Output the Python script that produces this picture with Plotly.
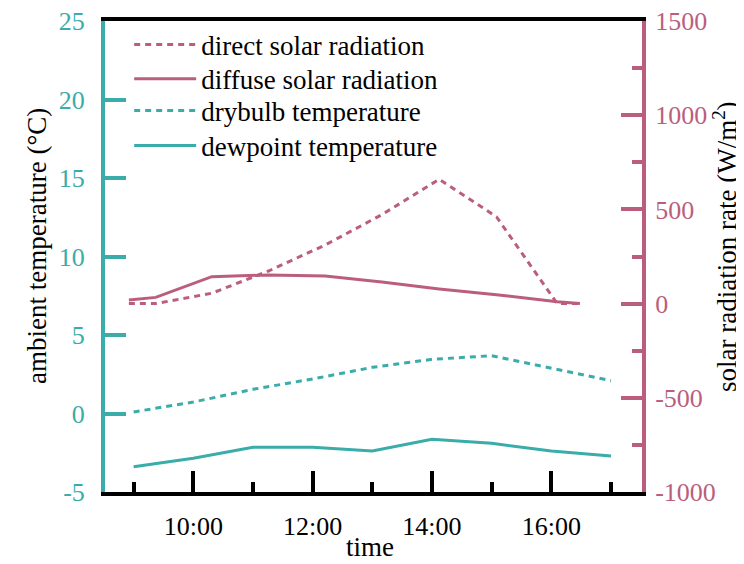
import plotly.graph_objects as go

# ---- data ----
hours = [9, 10, 11, 12, 13, 14, 15, 16, 17]
drybulb = [0.1, 0.73, 1.54, 2.2, 2.94, 3.45, 3.68, 2.88, 2.09]
dewpoint = [-3.39, -2.85, -2.15, -2.15, -2.39, -1.64, -1.9, -2.39, -2.71]

rad_hours = [8.92, 9.37, 10.31, 11.26, 12.21, 13.16, 14.12, 15.08, 16.1, 16.48]
direct = [0, 0, 55, 173, 311, 472, 660, 461, 0, 0]
diffuse = [19, 33, 143, 152, 146, 115, 78, 47, 10, 0]

xtick_vals = [10, 12, 14, 16]
xtick_text = ["10:00", "12:00", "14:00", "16:00"]
xminor_vals = [9, 11, 13, 15, 17]

ytemp_vals = [-5, 0, 5, 10, 15, 20, 25]
ytemp_text = ["-5", "0", "5", "10", "15", "20", "25"]
yrad_vals = [-1000, -500, 0, 500, 1000, 1500]
yrad_text = ["-1000", "-500", "0", "500", "1000", "1500"]
yrad_minor = [-750, -250, 250, 750, 1250]

TEAL = "#3aaca9"
PINK = "#bb5e7e"
FONT = "Liberation Serif"

# plot area in page pixels (the page body adds an 8px offset)
PX_L, PX_R, PX_T, PX_B = 105, 642, 21, 492
PW, PH = PX_R - PX_L, PX_B - PX_T


def px_x(x):
    return (x - PX_L) / PW


def px_y(y):
    return (PX_B - y) / PH


fig = go.Figure()
fig.add_trace(go.Scatter(x=rad_hours, y=direct, name="direct solar radiation", mode="lines",
                         line=dict(color=PINK, width=3, dash="6px,5px"), yaxis="y2",
                         legend="legend"))
fig.add_trace(go.Scatter(x=rad_hours, y=diffuse, name="diffuse solar radiation", mode="lines",
                         line=dict(color=PINK, width=3), yaxis="y2", legend="legend2"))
fig.add_trace(go.Scatter(x=hours, y=drybulb, name="drybulb temperature", mode="lines",
                         line=dict(color=TEAL, width=3, dash="6px,5px"), yaxis="y",
                         legend="legend3"))
fig.add_trace(go.Scatter(x=hours, y=dewpoint, name="dewpoint temperature", mode="lines",
                         line=dict(color=TEAL, width=3), yaxis="y", legend="legend4"))


def leg(yc):
    return dict(x=0.045, y=px_y(yc), xanchor="left", yanchor="middle",
                bgcolor="rgba(0,0,0,0)", borderwidth=0,
                font=dict(family=FONT, size=27, color="black"), itemwidth=62)


fig.update_layout(
    width=736, height=556,
    margin=dict(l=PX_L - 8, r=744 - PX_R, t=PX_T - 8, b=564 - PX_B, autoexpand=False),
    paper_bgcolor="white", plot_bgcolor="white",
    font=dict(family=FONT, size=26, color="black"),
    showlegend=True,
    legend=leg(45), legend2=leg(79.3), legend3=leg(111), legend4=leg(146),
    xaxis=dict(range=[8.52, 17.52], tickmode="array", tickvals=xtick_vals, ticktext=xtick_text,
               ticks="inside", ticklen=21, tickwidth=4, tickcolor="black",
               showline=True, linecolor="black", linewidth=4, mirror=True,
               showgrid=False, zeroline=False, automargin=False, ticklabeloverflow="allow",
               minor=dict(tickmode="array", tickvals=xminor_vals, ticks="inside",
                          ticklen=10, tickwidth=4, tickcolor="black"),
               tickfont=dict(family=FONT, size=26, color="black"),
               ticklabelstandoff=8),
    yaxis=dict(range=[-5, 25], tickmode="array", tickvals=ytemp_vals, ticktext=ytemp_text,
               ticks="inside", ticklen=21, tickwidth=4, tickcolor=TEAL,
               showline=True, linecolor=TEAL, linewidth=4,
               showgrid=False, zeroline=False, automargin=False, ticklabeloverflow="allow",
               tickfont=dict(family=FONT, size=26, color=TEAL), ticklabelstandoff=11),
    yaxis2=dict(range=[-1000, 1500], tickmode="array", tickvals=yrad_vals, ticktext=yrad_text,
                overlaying="y", side="right",
                ticks="inside", ticklen=21, tickwidth=4, tickcolor=PINK,
                showline=True, linecolor=PINK, linewidth=4,
                showgrid=False, zeroline=False, automargin=False, ticklabeloverflow="allow",
                minor=dict(tickmode="array", tickvals=yrad_minor, ticks="inside",
                           ticklen=10, tickwidth=4, tickcolor=PINK),
                tickfont=dict(family=FONT, size=26, color=PINK), ticklabelstandoff=4),
    annotations=[
        dict(text="time", xref="paper", yref="paper",
             x=px_x(370), y=px_y(547), xanchor="center", yanchor="middle",
             showarrow=False, font=dict(family=FONT, size=27, color="black")),
        dict(text="ambient temperature (°C)", xref="paper", yref="paper",
             x=px_x(37), y=px_y(246), xanchor="center", yanchor="middle",
             textangle=-90, showarrow=False, font=dict(family=FONT, size=27, color="black")),
        dict(text="solar radiation rate (W/m<sup>2</sup>)", xref="paper", yref="paper",
             x=px_x(725), y=px_y(246), xanchor="center", yanchor="middle",
             textangle=-90, showarrow=False, font=dict(family=FONT, size=27, color="black")),
    ],
)

fig.write_html("out.html")
